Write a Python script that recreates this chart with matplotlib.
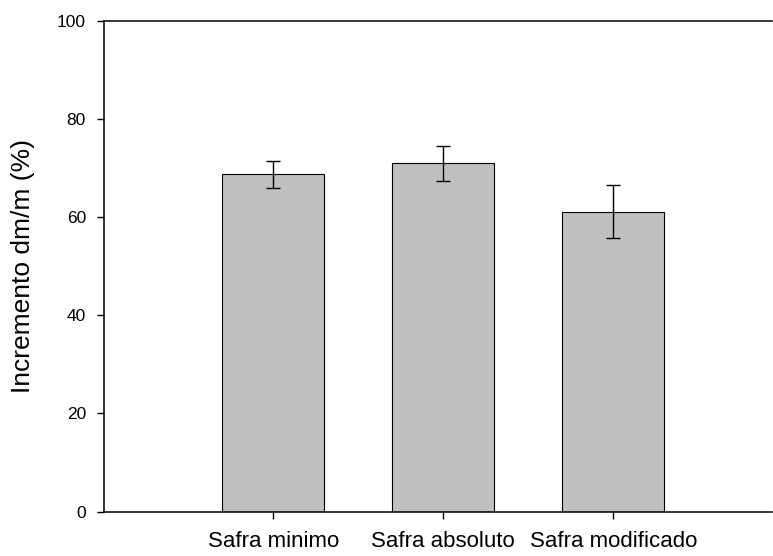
import numpy as np
import matplotlib
matplotlib.use("Agg")
import matplotlib.pyplot as plt

# data
groups = ["Safra minimo", "Safra absoluto", "Safra modificado"]
increment = [68.7, 71.0, 61.1]
increment_err = [2.8, 3.55, 5.4]

plt.rcParams['font.family'] = ['Liberation Sans', 'DejaVu Sans']

fig = plt.figure(figsize=(7.73, 5.56), dpi=100)
ax = fig.add_axes([0.1345, 0.0797, 0.8648, 0.8831])

x = np.arange(len(groups))
ax.bar(x, increment, width=0.6, color="#c0c0c0", edgecolor="black", linewidth=0.8,
       yerr=increment_err, capsize=5.3,
       error_kw=dict(ecolor="black", elinewidth=1.0, capthick=1.0))

ax.set_xlim(-0.996, 2.936)
ax.set_ylim(0, 100)
ax.set_yticks([0, 20, 40, 60, 80, 100])
ax.set_xticks(x)
ax.set_xticklabels(groups, fontsize=16)
ax.tick_params(axis="y", labelsize=12.5, length=5, width=1.0, pad=8, direction="out")
ax.tick_params(axis="x", length=5, width=1.0, pad=9, direction="out")

ax.spines["right"].set_visible(False)
for s in ["top", "left", "bottom"]:
    ax.spines[s].set_linewidth(1.1)

ax.set_ylabel("Incremento dm/m (%)", fontsize=19, labelpad=16)

fig.savefig("out.png", dpi=100)
